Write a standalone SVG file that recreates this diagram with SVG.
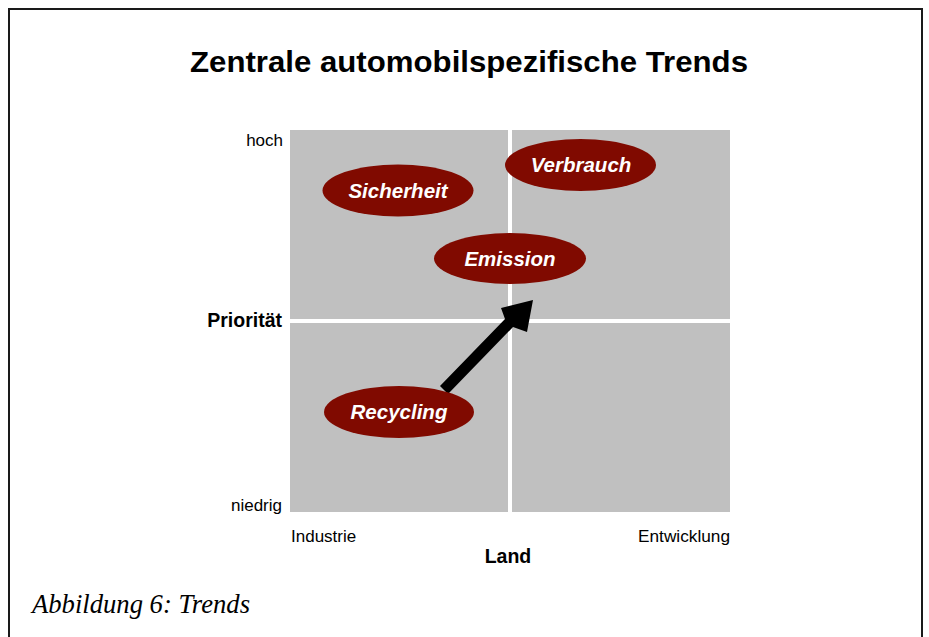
<svg xmlns="http://www.w3.org/2000/svg" width="929" height="637" viewBox="0 0 929 637">
  <defs>
    <style>
      .frame { fill: none; stroke: #1a1a1a; stroke-width: 2; }
      .quad { fill: #c0c0c0; }
      .trend { fill: #800a00; }
      .trend-label { font-family: "Liberation Sans", Arial, sans-serif; font-size: 20.5px; font-weight: bold; font-style: italic; fill: #ffffff; text-anchor: middle; }
      .axis { font-family: "Liberation Sans", Arial, sans-serif; font-size: 17px; fill: #000000; }
      .axis-title { font-family: "Liberation Sans", Arial, sans-serif; font-size: 19.5px; font-weight: bold; fill: #000000; }
      .title { font-family: "Liberation Sans", Arial, sans-serif; font-size: 30px; font-weight: bold; fill: #000000; }
      .caption { font-family: "Liberation Serif", "Times New Roman", serif; font-size: 26.5px; font-style: italic; fill: #000000; }
    </style>
  </defs>
  <rect x="0" y="0" width="929" height="637" fill="#ffffff"/>
  <path class="frame" d="M9,640 V9 H922 V640"/>

  <text class="title" x="190" y="72" textLength="558" lengthAdjust="spacingAndGlyphs">Zentrale automobilspezifische Trends</text>

  <g id="matrix">
    <rect class="quad" x="290" y="130" width="218" height="189"/>
    <rect class="quad" x="512" y="130" width="218" height="189"/>
    <rect class="quad" x="290" y="323" width="218" height="189"/>
    <rect class="quad" x="512" y="323" width="218" height="189"/>
  </g>

  <g id="axis-labels">
    <text class="axis" x="283" y="146" text-anchor="end">hoch</text>
    <text class="axis-title" x="282" y="327" text-anchor="end">Priorität</text>
    <text class="axis" x="282" y="511" text-anchor="end">niedrig</text>
    <text class="axis" x="291" y="542">Industrie</text>
    <text class="axis" x="730" y="542" text-anchor="end" textLength="92" lengthAdjust="spacingAndGlyphs">Entwicklung</text>
    <text class="axis-title" x="508" y="563" text-anchor="middle">Land</text>
  </g>

  <g id="connectors">
    <polygon fill="#000000" points="440,386 448,394 513,327 527,332 533,300 501,308 505,319"/>
  </g>

  <g id="node-sicherheit">
    <ellipse class="trend" cx="398" cy="190.5" rx="75.5" ry="26"/>
    <text class="trend-label" x="398" y="197.5">Sicherheit</text>
  </g>
  <g id="node-verbrauch">
    <ellipse class="trend" cx="580.5" cy="165" rx="75.5" ry="26"/>
    <text class="trend-label" x="581" y="172">Verbrauch</text>
  </g>
  <g id="node-emission">
    <ellipse class="trend" cx="510" cy="258.5" rx="76" ry="25.5"/>
    <text class="trend-label" x="510" y="265.5">Emission</text>
  </g>
  <g id="node-recycling">
    <ellipse class="trend" cx="399" cy="412" rx="75" ry="26"/>
    <text class="trend-label" x="399" y="418.5">Recycling</text>
  </g>

  <text class="caption" x="32" y="613" textLength="218" lengthAdjust="spacingAndGlyphs">Abbildung 6: Trends</text>
</svg>
